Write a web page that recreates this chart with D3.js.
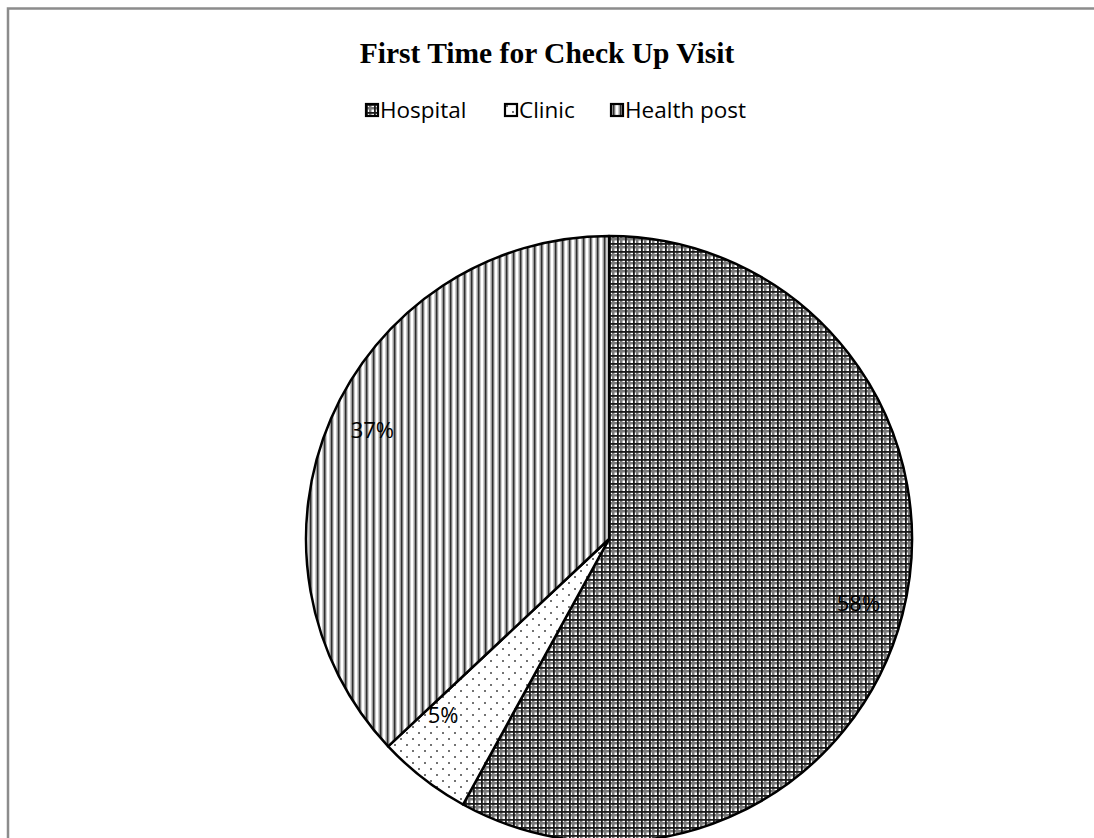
<!DOCTYPE html>
<html>
<head>
<meta charset="utf-8">
<script src="https://cdn.jsdelivr.net/npm/d3@7/dist/d3.min.js"></script>
<style>
  html, body { margin: 0; padding: 0; background: #fff; }
  svg { display: block; }
</style>
</head>
<body>
<svg id="chart" width="1094" height="838"></svg>
<script>
// Where first-time check-up visits took place (percent of respondents)
const categories = ["Hospital", "Clinic", "Health post"];
const shares = [58, 5, 37];
const labels = ["58%", "5%", "37%"];
const patternIds = ["pat-hospital", "pat-clinic", "pat-health"];

const W = 1094, H = 838;
const svg = d3.select("#chart");
const defs = svg.append("defs");

// Hospital: dense cross-hatched grid
const ph = defs.append("pattern").attr("id", "pat-hospital")
  .attr("patternUnits", "userSpaceOnUse").attr("width", 8).attr("height", 8);
ph.append("rect").attr("width", 8).attr("height", 8).attr("fill", "#fff");
ph.append("rect").attr("x", 3).attr("width", 2.5).attr("height", 8).attr("fill", "#7a7a7a");
ph.append("rect").attr("y", 3).attr("width", 8).attr("height", 2.5).attr("fill", "#7a7a7a");
ph.append("rect").attr("x", 0).attr("width", 1.8).attr("height", 8).attr("fill", "#1a1a1a");
ph.append("rect").attr("y", 0).attr("width", 8).attr("height", 1.8).attr("fill", "#1a1a1a");

// Clinic: sparse dots
const pc = defs.append("pattern").attr("id", "pat-clinic")
  .attr("patternUnits", "userSpaceOnUse").attr("width", 12).attr("height", 12);
pc.append("rect").attr("width", 12).attr("height", 12).attr("fill", "#fff");
pc.append("circle").attr("cx", 2).attr("cy", 2).attr("r", 1).attr("fill", "#444");
pc.append("circle").attr("cx", 8).attr("cy", 8).attr("r", 1).attr("fill", "#444");

// Health post: vertical stripes
const pv = defs.append("pattern").attr("id", "pat-health")
  .attr("patternUnits", "userSpaceOnUse").attr("width", 7).attr("height", 7);
pv.append("rect").attr("width", 7).attr("height", 7).attr("fill", "#fff");
pv.append("rect").attr("x", 0.5).attr("width", 4).attr("height", 7).attr("fill", "#999");
pv.append("rect").attr("x", 2).attr("width", 1.3).attr("height", 7).attr("fill", "#2e2e2e");

// Chart frame
svg.append("path")
  .attr("d", `M8,${H} L8,8.5 L${W},8.5`)
  .attr("fill", "none").attr("stroke", "#8c8c8c").attr("stroke-width", 2.5);

// Title
svg.append("text")
  .attr("x", 547).attr("y", 63)
  .attr("text-anchor", "middle")
  .attr("font-family", "'Liberation Serif', 'Times New Roman', serif")
  .attr("font-weight", "bold").attr("font-size", 29.5)
  .text("First Time for Check Up Visit");

// Legend
const legendX = [366, 505, 611];
const legend = svg.append("g").selectAll("g").data(categories).join("g")
  .attr("transform", (d, i) => `translate(${legendX[i]},104)`);
legend.append("rect")
  .attr("width", 12).attr("height", 12)
  .attr("fill", (d, i) => `url(#${patternIds[i]})`)
  .attr("stroke", "#000").attr("stroke-width", 2.2);
legend.append("text")
  .attr("x", 14).attr("y", 14)
  .attr("font-family", "'Open Sans', 'Liberation Sans', sans-serif")
  .attr("font-size", 22.5)
  .text(d => d);

// Pie
const cx = 609, cy = 539, r = 303;
const pie = d3.pie().sort(null).value(d => d)(shares);
const arc = d3.arc().innerRadius(0).outerRadius(r);
const g = svg.append("g").attr("transform", `translate(${cx},${cy})`);
g.selectAll("path").data(pie).join("path")
  .attr("d", arc)
  .attr("fill", (d, i) => `url(#${patternIds[i]})`)
  .attr("stroke", "#000").attr("stroke-width", 2.5)
  .attr("stroke-linejoin", "round");

// Percentage labels: position inside each slice (fraction along the slice, radius fraction)
const labelPos = [[0.50, 0.85], [0.80, 0.80], [0.51, 0.86]];
g.selectAll("text").data(pie).join("text")
  .attr("transform", (d, i) => {
    const [f, rf] = labelPos[i];
    const a = d.startAngle + f * (d.endAngle - d.startAngle);
    return `translate(${Math.sin(a) * r * rf},${-Math.cos(a) * r * rf})`;
  })
  .attr("text-anchor", "middle").attr("dy", "0.35em")
  .attr("font-family", "'Open Sans', 'Liberation Sans', sans-serif")
  .attr("font-size", 22)
  .text((d, i) => labels[i]);
</script>
</body>
</html>
